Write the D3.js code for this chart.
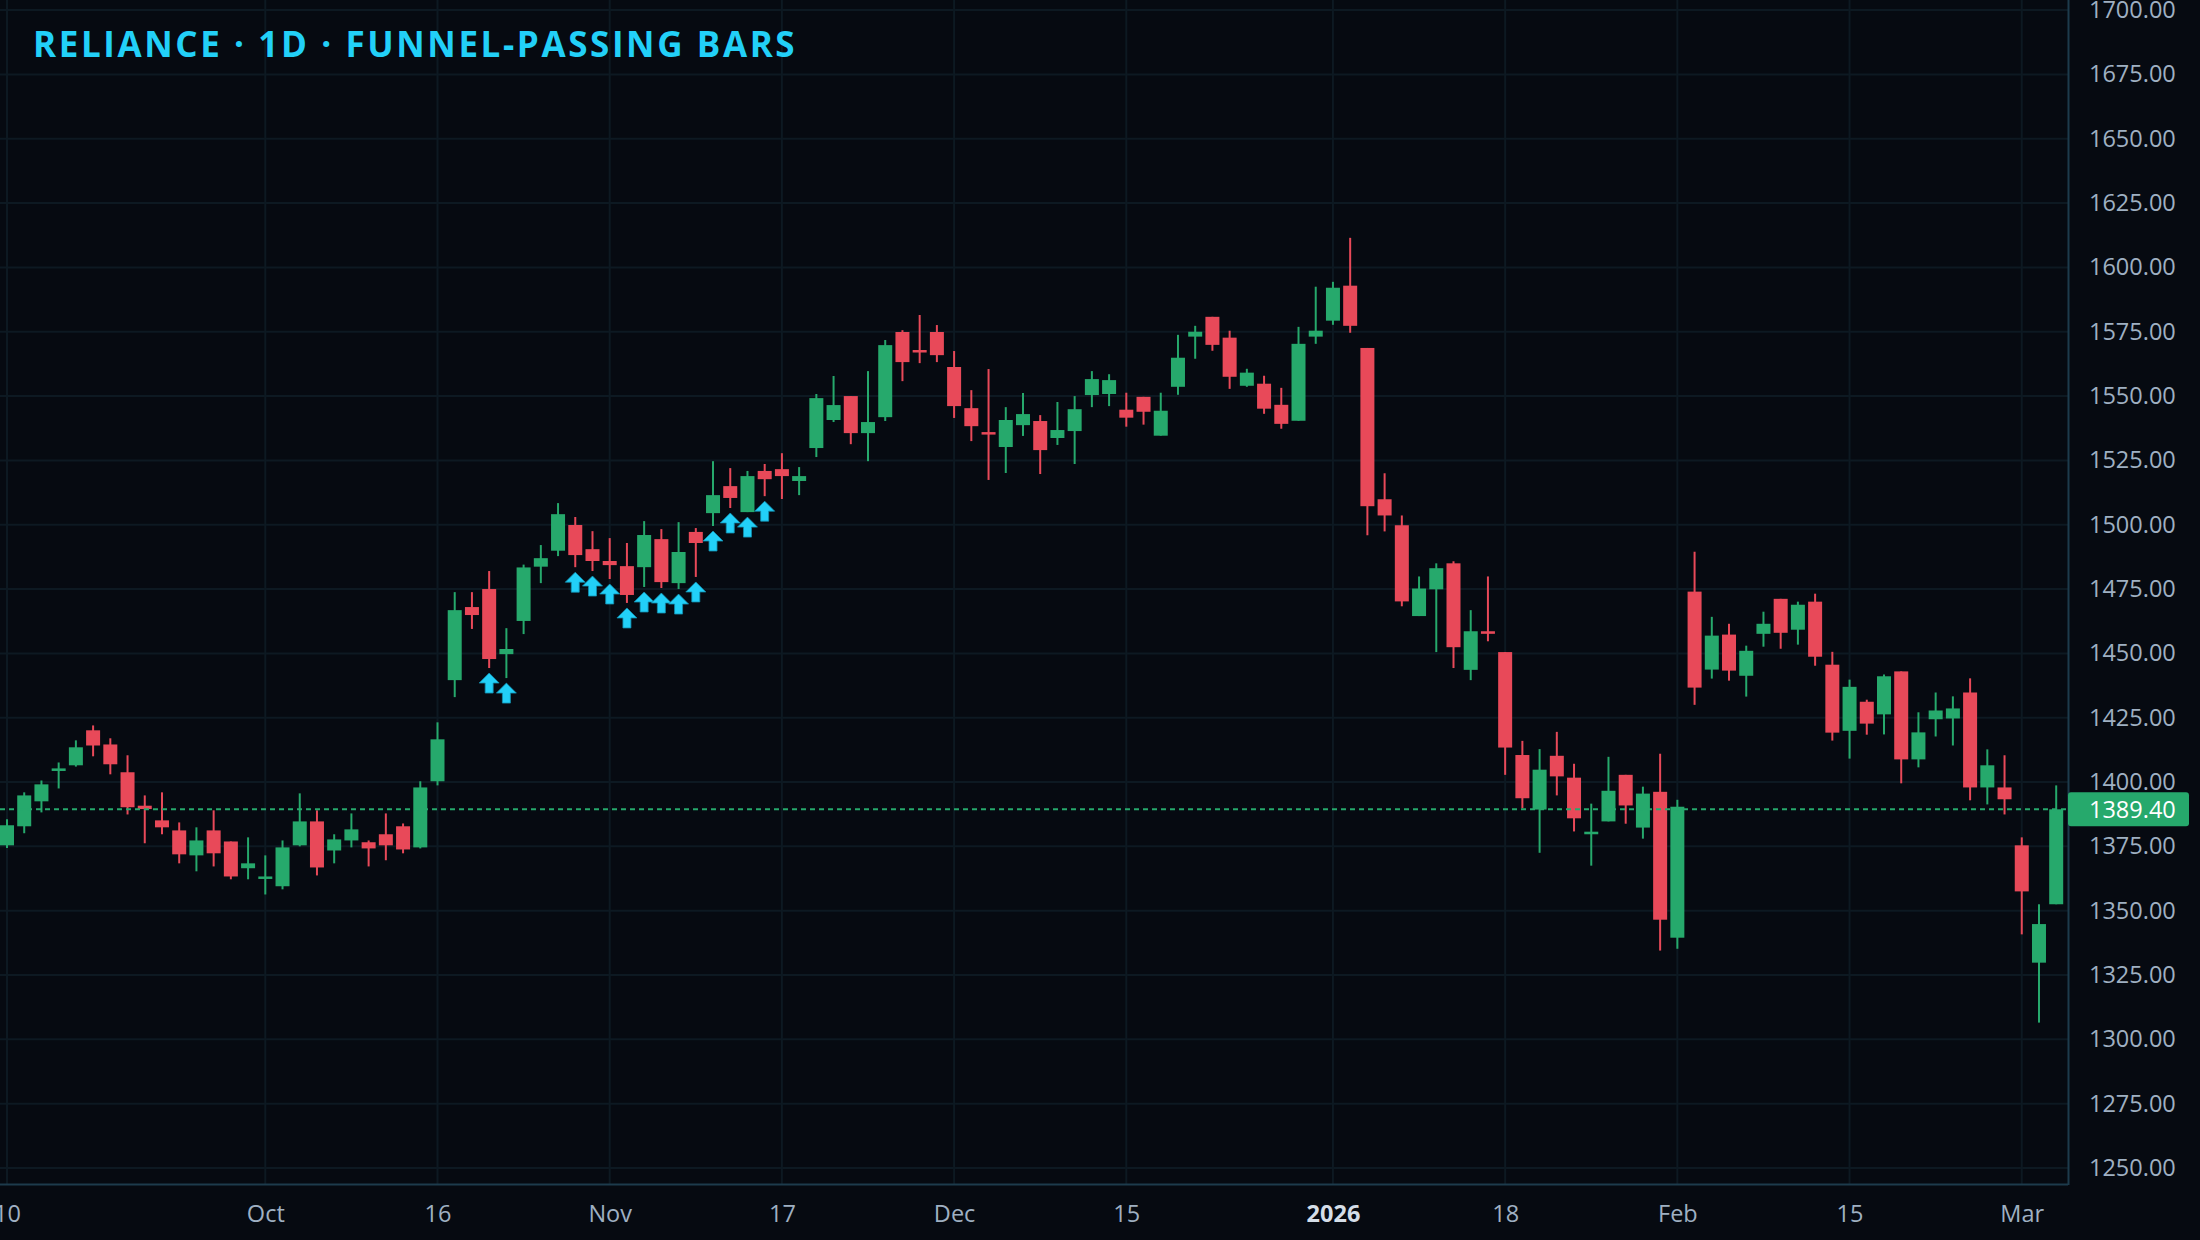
<!DOCTYPE html>
<html>
<head>
<meta charset="utf-8">
<script src="https://cdn.jsdelivr.net/npm/d3@7"></script>
<style>
  html, body { margin: 0; padding: 0; background: #060a11; }
  svg { display: block; }
  .axis text { font-family: "Open Sans", "Noto Sans", sans-serif; font-size: 23.5px; fill: #9fb0c2; }
</style>
</head>
<body>
<div id="chart"></div>
<script>
// daily bars (oldest first)
var opens  = [1375.4,1382.8,1392.5,1404.3,1406.5,1420.1,1414.6,1403.8,1390.8,1385.1,
              1381.2,1371.5,1381.2,1376.9,1366.5,1362.6,1359.5,1375.4,1384.7,1373.4,
              1377.3,1376.6,1379.7,1382.8,1374.6,1400.3,1439.6,1468.0,1475.0,1449.7,
              1462.6,1483.7,1489.9,1499.9,1490.5,1485.9,1483.9,1483.5,1494.4,1477.3,
              1497.2,1504.5,1515.0,1504.9,1520.9,1521.6,1517.0,1529.8,1540.7,1550.0,
              1535.6,1541.8,1574.9,1567.9,1574.9,1561.3,1545.3,1536.0,1530.2,1538.7,
              1540.3,1533.7,1536.4,1550.4,1550.8,1544.7,1549.7,1534.6,1553.6,1573.1,
              1580.8,1572.7,1554.0,1554.8,1546.6,1540.4,1573.1,1579.3,1592.9,1568.7,
              1509.9,1499.8,1464.5,1474.9,1485.0,1443.6,1458.6,1450.5,1410.5,1389.3,
              1410.2,1401.7,1379.7,1384.7,1402.8,1382.3,1396.2,1339.5,1474.0,1443.7,
              1457.3,1441.3,1457.6,1471.2,1459.2,1470.1,1445.6,1419.9,1431.2,1426.3,
              1443.0,1408.8,1424.4,1424.7,1434.8,1397.9,1397.9,1375.4,1329.8,1352.5];
var highs  = [1385.5,1396.0,1400.6,1407.6,1416.2,1422.0,1417.0,1410.4,1394.8,1396.0,
              1384.3,1382.4,1389.0,1376.9,1378.5,1371.5,1377.3,1395.6,1389.0,1379.7,
              1387.8,1377.3,1387.8,1383.9,1400.3,1423.2,1473.8,1473.8,1482.0,1459.8,
              1484.5,1492.1,1508.4,1503.0,1497.5,1494.8,1492.9,1501.4,1498.3,1501.0,
              1498.7,1524.7,1522.0,1520.9,1523.6,1527.8,1522.4,1550.8,1557.8,1550.0,
              1559.7,1571.8,1575.6,1581.5,1577.6,1567.5,1552.3,1560.5,1545.7,1551.2,
              1542.6,1547.7,1550.0,1559.7,1558.5,1551.3,1549.7,1551.3,1573.8,1577.3,
              1580.8,1575.4,1560.6,1557.9,1553.2,1576.9,1592.5,1594.4,1611.5,1568.7,
              1520.0,1503.6,1479.9,1485.0,1485.8,1466.8,1479.9,1450.5,1416.0,1412.8,
              1419.5,1407.1,1391.6,1409.8,1402.8,1398.2,1411.0,1393.1,1489.5,1464.2,
              1461.5,1453.0,1466.2,1471.2,1470.1,1473.2,1450.6,1439.8,1432.0,1441.8,
              1443.0,1427.1,1434.8,1433.3,1440.3,1412.7,1410.4,1378.5,1352.5,1398.7];
var lows   = [1374.4,1380.1,1388.2,1397.5,1406.0,1410.0,1403.0,1387.4,1376.2,1379.7,
              1368.4,1365.3,1367.2,1362.2,1362.2,1356.3,1358.3,1375.0,1363.7,1368.4,
              1374.6,1367.2,1369.6,1372.3,1374.2,1398.7,1433.0,1459.5,1444.3,1440.4,
              1457.5,1477.3,1487.8,1483.5,1482.0,1478.9,1469.6,1475.8,1475.4,1475.0,
              1479.7,1499.5,1506.5,1504.9,1511.1,1510.0,1511.5,1526.3,1539.9,1531.3,
              1524.7,1540.3,1555.8,1562.8,1563.2,1541.5,1532.5,1517.4,1520.1,1534.5,
              1519.7,1531.0,1523.6,1545.7,1546.1,1538.1,1538.9,1534.6,1550.5,1564.5,
              1567.6,1552.8,1553.6,1543.1,1537.3,1540.4,1570.3,1577.7,1574.6,1495.9,
              1497.4,1468.3,1464.5,1450.5,1444.3,1439.6,1454.7,1402.8,1389.8,1372.5,
              1394.8,1380.8,1367.5,1384.7,1383.8,1378.0,1334.5,1335.2,1430.0,1440.2,
              1439.4,1433.2,1452.6,1451.8,1453.4,1445.2,1416.1,1409.1,1418.4,1418.5,
              1399.5,1405.7,1417.7,1414.2,1392.9,1391.3,1387.4,1340.8,1306.5,1352.5];
var closes = [1383.2,1394.8,1399.1,1405.3,1413.5,1414.2,1406.9,1390.2,1389.5,1382.4,
              1371.9,1377.3,1372.3,1363.3,1368.4,1363.3,1374.6,1384.7,1366.8,1377.7,
              1381.6,1374.2,1375.4,1373.8,1397.9,1416.6,1466.8,1464.9,1447.8,1451.7,
              1483.4,1487.0,1504.1,1488.2,1485.9,1484.3,1472.7,1496.0,1477.7,1489.4,
              1492.9,1511.5,1510.4,1518.9,1517.7,1518.9,1518.9,1549.2,1546.5,1535.6,
              1539.9,1569.8,1563.2,1567.1,1565.9,1546.1,1538.3,1535.2,1540.7,1543.0,
              1529.0,1536.8,1544.9,1556.6,1556.2,1541.6,1543.9,1544.3,1564.9,1575.0,
              1569.9,1557.5,1559.1,1545.1,1539.2,1570.3,1575.4,1592.1,1577.3,1507.2,
              1503.6,1470.2,1475.2,1483.1,1452.4,1458.6,1457.6,1413.4,1393.7,1404.8,
              1402.2,1385.9,1380.7,1396.6,1390.9,1395.5,1346.5,1390.4,1436.7,1456.9,
              1443.3,1451.0,1461.5,1458.0,1468.9,1448.7,1419.2,1437.0,1422.7,1441.1,
              1408.8,1419.3,1427.8,1428.6,1397.9,1406.5,1393.3,1357.5,1344.8,1389.4];

// bars flagged by the funnel (arrow under the bar)
var funnelBars = [28, 29, 33, 34, 35, 36, 37, 38, 39, 40, 41, 42, 43, 44];

var priceTicks = [1250, 1275, 1300, 1325, 1350, 1375, 1400, 1425, 1450, 1475,
                  1500, 1525, 1550, 1575, 1600, 1625, 1650, 1675, 1700];
var timeTickIdx    = [0, 15, 25, 35, 45, 55, 65, 77, 87, 97, 107, 117];
var timeTickLabels = ["10", "Oct", "16", "Nov", "17", "Dec", "15", "2026", "18", "Feb", "15", "Mar"];
var lastPrice = 1389.40;

var W = 2200, H = 1240;
var plotW = 2068, plotH = 1184;
var up = "#26a96c", down = "#e84959", cyan = "#22d0f8";

var svg = d3.select("#chart").append("svg")
    .attr("width", W)
    .attr("height", H);

svg.append("rect").attr("width", W).attr("height", H).attr("fill", "#060a11");

svg.append("clipPath").attr("id", "plotclip")
  .append("rect").attr("width", plotW).attr("height", plotH);

var bars = opens.map(function(o, i) {
    return {i: i, o: o, h: highs[i], l: lows[i], c: closes[i]};
});

// x: one slot per bar, y: price
var x = d3.scalePoint()
    .domain(bars.map(function(d) { return d.i; }))
    .range([7, 2056.2]);
var bodyW = 14;

var y = d3.scaleLinear()
    .domain([1250, 1700])
    .range([1168, 10.1]);

var plot = svg.append("g").attr("clip-path", "url(#plotclip)");

// grid
plot.append("g").selectAll("line")
    .data(priceTicks)
    .enter().append("line")
    .attr("x1", 0).attr("x2", plotW)
    .attr("y1", function(d) { return y(d); })
    .attr("y2", function(d) { return y(d); })
    .attr("stroke", "#0d1922")
    .attr("stroke-width", 2);

plot.append("g").selectAll("line")
    .data(timeTickIdx)
    .enter().append("line")
    .attr("x1", function(d) { return x(d); })
    .attr("x2", function(d) { return x(d); })
    .attr("y1", 0).attr("y2", plotH)
    .attr("stroke", "#0d1922")
    .attr("stroke-width", 2);

// candles
var candle = plot.append("g").selectAll("g")
    .data(bars)
    .enter().append("g")
    .attr("fill", function(d) { return d.c >= d.o ? up : down; })
    .attr("stroke", function(d) { return d.c >= d.o ? up : down; });

candle.append("line")
    .attr("x1", function(d) { return x(d.i); })
    .attr("x2", function(d) { return x(d.i); })
    .attr("y1", function(d) { return y(d.h); })
    .attr("y2", function(d) { return y(d.l); })
    .attr("stroke-width", 2);

candle.append("rect")
    .attr("stroke", "none")
    .attr("x", function(d) { return x(d.i) - bodyW / 2; })
    .attr("width", bodyW)
    .attr("y", function(d) { return y(Math.max(d.o, d.c)); })
    .attr("height", function(d) { return Math.max(2.5, Math.abs(y(d.o) - y(d.c))); });

// funnel arrows below the low
var arrowPath = "M0,0 L10,10 L4,10 L4,20 L-4,20 L-4,10 L-10,10 Z";
plot.append("g").selectAll("path")
    .data(funnelBars)
    .enter().append("path")
    .attr("d", arrowPath)
    .attr("transform", function(i) { return "translate(" + x(i) + "," + (y(lows[i]) + 5) + ")"; })
    .attr("fill", cyan)
    .attr("stroke", "#138fb0")
    .attr("stroke-width", 0.8);

// last price line
plot.append("line")
    .attr("x1", 0).attr("x2", plotW)
    .attr("y1", y(lastPrice)).attr("y2", y(lastPrice))
    .attr("stroke", up)
    .attr("stroke-width", 2)
    .attr("stroke-dasharray", "5,4");

// axes
var yAxis = svg.append("g")
    .attr("class", "axis")
    .attr("transform", "translate(" + plotW + ",0)")
    .call(d3.axisRight(y).tickValues(priceTicks).tickFormat(d3.format(".2f")).tickSize(0).tickPadding(21));
yAxis.select(".domain").remove();

var xAxis = svg.append("g")
    .attr("class", "axis")
    .attr("transform", "translate(0," + plotH + ")")
    .call(d3.axisBottom(x).tickValues(timeTickIdx)
        .tickFormat(function(d, k) { return timeTickLabels[k]; })
        .tickSize(0).tickPadding(21));
xAxis.select(".domain").remove();
xAxis.selectAll("text")
    .filter(function(d, k) { return timeTickLabels[k] == "2026"; })
    .style("font-weight", "bold")
    .style("fill", "#d5dee8");

// plot borders
svg.append("line")
    .attr("x1", 0).attr("x2", plotW)
    .attr("y1", plotH + 0.5).attr("y2", plotH + 0.5)
    .attr("stroke", "#1d3b4c").attr("stroke-width", 2);
svg.append("line")
    .attr("x1", plotW + 0.5).attr("x2", plotW + 0.5)
    .attr("y1", 0).attr("y2", plotH + 1)
    .attr("stroke", "#1d3b4c").attr("stroke-width", 2);

// last price tag
svg.append("rect")
    .attr("x", plotW)
    .attr("y", y(lastPrice) - 17)
    .attr("width", 121)
    .attr("height", 34)
    .attr("rx", 3)
    .attr("fill", up);
svg.append("text")
    .attr("x", plotW + 21)
    .attr("y", y(lastPrice))
    .attr("dy", "0.35em")
    .style("font-family", "'Open Sans', 'Noto Sans', sans-serif")
    .style("font-size", "23.5px")
    .style("fill", "#ffffff")
    .text(d3.format(".2f")(lastPrice));

// title
svg.append("text")
    .attr("x", 33)
    .attr("y", 57)
    .style("font-family", "'Open Sans', 'Noto Sans', sans-serif")
    .style("font-weight", "bold")
    .style("font-size", "35px")
    .style("letter-spacing", "2.6px")
    .style("fill", cyan)
    .text("RELIANCE · 1D · FUNNEL-PASSING BARS");
</script>
</body>
</html>
